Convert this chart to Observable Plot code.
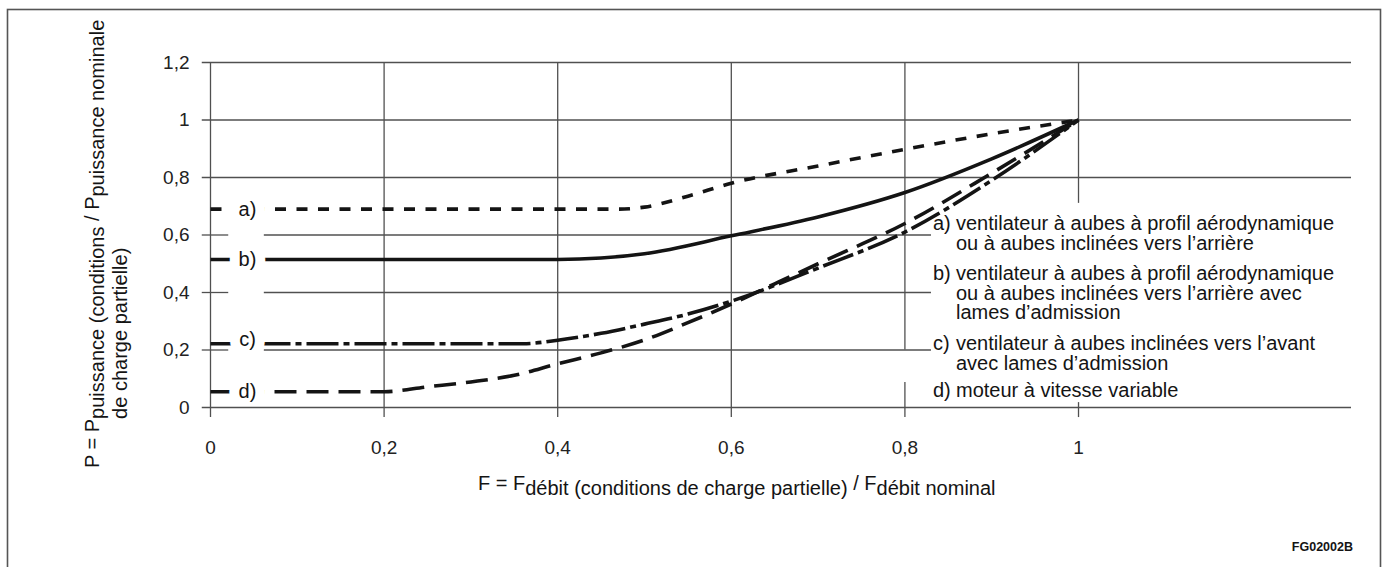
<!DOCTYPE html>
<html>
<head>
<meta charset="utf-8">
<script src="https://cdn.jsdelivr.net/npm/d3@7"></script>
<script src="https://cdn.jsdelivr.net/npm/@observablehq/plot@0.6"></script>
<style>
  html, body { margin: 0; padding: 0; background: #fff; }
  #chart { width: 1385px; height: 567px; overflow: hidden; }
  text { white-space: pre; }
  #chart g[aria-label="x-axis tick label"], #chart g[aria-label="y-axis tick label"] { font-size: 19px; }
</style>
</head>
<body>
<div id="chart"></div>
<script>
// ---------- data ----------
const xTicks = [0, 0.2, 0.4, 0.6, 0.8, 1];
const yTicks = [0, 0.2, 0.4, 0.6, 0.8, 1, 1.2];

const seriesLabels = ["a)", "b)", "c)", "d)"];

const aF = [0, 0.47, 0.5, 0.55, 0.6, 0.7, 0.8, 0.9, 1];
const aP = [0.69, 0.69, 0.697, 0.735, 0.78, 0.84, 0.898, 0.952, 1.0];

const bF = [0, 0.4, 0.45, 0.5, 0.6, 0.7, 0.8, 0.9, 1];
const bP = [0.515, 0.515, 0.52, 0.535, 0.597, 0.663, 0.748, 0.865, 1.0];

const cF = [0, 0.36, 0.4, 0.45, 0.5, 0.55, 0.6, 0.7, 0.8, 0.9, 1];
const cP = [0.222, 0.222, 0.234, 0.258, 0.29, 0.325, 0.37, 0.485, 0.61, 0.79, 1.0];

const dF = [0, 0.2, 0.25, 0.3, 0.35, 0.4, 0.45, 0.5, 0.55, 0.6, 0.65, 0.7, 0.8, 0.9, 1];
const dP = [0.055, 0.055, 0.072, 0.089, 0.112, 0.152, 0.19, 0.235, 0.295, 0.36, 0.43, 0.5, 0.64, 0.815, 1.0];

const legendItems = [
  ["a)", ["ventilateur à aubes à profil aérodynamique", "ou à aubes inclinées vers l’arrière"]],
  ["b)", ["ventilateur à aubes à profil aérodynamique", "ou à aubes inclinées vers l’arrière avec", "lames d’admission"]],
  ["c)", ["ventilateur à aubes inclinées vers l’avant", "avec lames d’admission"]],
  ["d)", ["moteur à vitesse variable"]]
];

const figureCode = "FG02002B";

// ---------- styling / layout ----------
const FONT = "'Liberation Sans', Arial, Helvetica, sans-serif";
const INK = "#141414";
const GRID = "#505050";
const GW = 1.3;
const LW = 3.6;
const fmt = d => String(d).replace(".", ",");

const toRows = (F, P) => F.map((f, i) => ({F: f, P: P[i]}));
const curves = [
  {rows: toRows(aF, aP), dash: "11,10.5"},
  {rows: toRows(bF, bP), dash: null},
  {rows: toRows(cF, cP), dash: "32,5,6,5"},
  {rows: toRows(dF, dP), dash: "22,10"}
];
const firstP = [aP[0], bP[0], cP[0], dP[0]];

const xLeft = -0.0095, xRight = 1.3145, xLegend = 0.8306;
const gapL = 0.021, gapR = 0.062;
const yBelow = -0.035;

const hGrid = [];
yTicks.filter(v => v > 0).forEach(v => {
  if (v >= 0.8) hGrid.push({y: v, x1: xLeft, x2: xRight});
  else {
    hGrid.push({y: v, x1: xLeft, x2: gapL});
    hGrid.push({y: v, x1: gapR, x2: xLegend});
  }
});
const vGrid = [];
xTicks.forEach(v => {
  if (v < 0.8) vGrid.push({x: v, y1: yBelow, y2: 1.2});
  else if (v < 1) { vGrid.push({x: v, y1: 0.2, y2: 1.2}); vGrid.push({x: v, y1: yBelow, y2: 0.087}); }
  else { vGrid.push({x: v, y1: 0.71, y2: 1.2}); vGrid.push({x: v, y1: yBelow, y2: 0.017}); }
});

const labelRows = seriesLabels.map((s, i) => ({s, P: firstP[i]}));
const labelX = 0.0426;

const marks = [
  Plot.ruleY(hGrid, {y: "y", x1: "x1", x2: "x2", stroke: GRID, strokeWidth: GW}),
  Plot.ruleX(vGrid, {x: "x", y1: "y1", y2: "y2", stroke: GRID, strokeWidth: GW}),
  ...curves.map(c => Plot.line(c.rows, {
    x: "F", y: "P", curve: "monotone-x", stroke: INK, strokeWidth: LW,
    strokeDasharray: c.dash || undefined, strokeLinecap: "butt"
  })),
  Plot.text(labelRows.filter(d => d.s !== "c)"), {
    x: labelX, y: "P", text: "s", fontSize: 20, fill: INK,
    stroke: "white", strokeWidth: 20, strokeLinejoin: "round", paintOrder: "stroke"
  }),
  Plot.text(labelRows.filter(d => d.s === "c)"), {
    x: labelX, y: "P", text: "s", dy: -4, fontSize: 20, fill: INK,
    stroke: "white", strokeWidth: 20, strokeLinejoin: "round", paintOrder: "stroke"
  }),
  Plot.ruleY([0], {x1: xLeft, x2: xRight, stroke: GRID, strokeWidth: GW}),
  Plot.axisX({ticks: xTicks, tickSize: 0, tickPadding: 33, tickFormat: fmt, fontSize: 19, fill: "#222", label: null}),
  Plot.axisY({ticks: yTicks, tickSize: 0, tickPadding: 21, tickFormat: fmt, fontSize: 19, fill: "#222", label: null})
];

const plot = Plot.plot({
  width: 1385, height: 567,
  marginLeft: 210, marginRight: 34, marginTop: 62, marginBottom: 160,
  x: {domain: [0, xRight]},
  y: {domain: [0, 1.2]},
  style: {fontFamily: FONT, background: "white", color: INK, fontSize: "19px"},
  marks
});

document.getElementById("chart").appendChild(plot);

// ---------- annotations ----------
const svg = d3.select(plot);
svg.insert("rect", ":first-child")
  .attr("x", 7.5).attr("y", 9.5).attr("width", 1373).attr("height", 600)
  .attr("fill", "none").attr("stroke", "#555").attr("stroke-width", 1.6);

const TS = 20;    // title size
const SUB = 5;    // subscript shift
const addText = (sel) => sel.append("text")
  .attr("font-family", FONT).attr("font-size", TS).attr("fill", INK)
  .attr("text-anchor", "start");

// y title
const yt = addText(svg).attr("transform", "translate(99,468) rotate(-90)");
const yt1 = yt.append("tspan").text("P = P");
yt.append("tspan").attr("dy", SUB).text("puissance (conditions");
yt.append("tspan").attr("dy", -SUB).text(" / P");
yt.append("tspan").attr("dy", SUB).text("puissance nominale");
const w1 = yt1.node().getComputedTextLength();
addText(svg)
  .attr("transform", `translate(${99 + SUB + 23},${468 - w1}) rotate(-90)`)
  .text("de charge partielle)");

// x title
const xt = addText(svg).attr("x", 478).attr("y", 490);
xt.append("tspan").text("F = F");
xt.append("tspan").attr("dy", SUB).text("débit (conditions de charge partielle)");
xt.append("tspan").attr("dy", -SUB).text(" / F");
xt.append("tspan").attr("dy", SUB).text("débit nominal");

// legend
const legendTops = [223, 273, 343, 390];
const LH = 19.7;
legendItems.forEach(([tag, lines], i) => {
  lines.forEach((ln, j) => {
    const y = legendTops[i] + j * LH;
    if (j === 0) {
      addText(svg).attr("x", 933).attr("y", y).attr("dy", "0.35em").text(tag);
    }
    addText(svg).attr("x", 956).attr("y", y).attr("dy", "0.35em").text(ln);
  });
});

// figure code
svg.append("text").attr("x", 1353).attr("y", 551).attr("text-anchor", "end")
  .attr("font-family", FONT).attr("font-size", 12.5).attr("font-weight", "bold")
  .attr("fill", INK).text(figureCode);
</script>
</body>
</html>
